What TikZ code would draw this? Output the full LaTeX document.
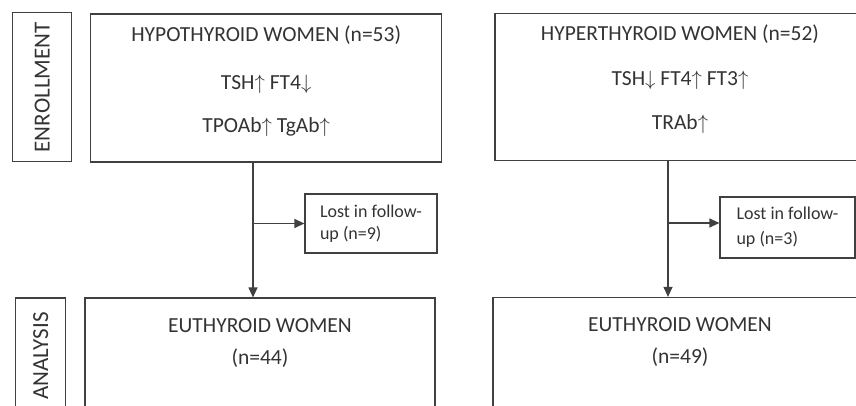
\documentclass[tikz,border=0pt]{standalone}
\usepackage{fontspec}
\setmainfont{Carlito}
\usetikzlibrary{arrows.meta,positioning}
\definecolor{linegray}{HTML}{404040}
\definecolor{textgray}{HTML}{333333}
\newcommand{\arup}{$\uparrow$}
\newcommand{\ardn}{$\downarrow$}
\tikzset{
  frame/.style={draw=linegray, line width=1.2pt, rectangle, inner sep=0pt},
  stage/.style={frame, rotate=90, text=textgray, font=\fontsize{23}{28}\selectfont},
  boxtext/.style={text=textgray, align=center, inner sep=0pt, font=\fontsize{21.5}{26}\selectfont},
  lostbox/.style={frame, text=textgray, align=left, minimum width=132pt, font=\fontsize{18}{22}\selectfont},
  flow/.style={draw=linegray, line width=1.2pt, -{Triangle[length=10pt,width=9pt]}}
}
\begin{document}
\begin{tikzpicture}[x=1pt,y=-1pt]
	\useasboundingbox (0,0) rectangle (856,406);
	\clip (0,0) rectangle (856,406);

	% stage labels
	\node[stage, minimum width=149pt, minimum height=59pt] (enroll) at (42.2,87.3) {ENROLLMENT};
	\node[stage, minimum width=116pt, minimum height=50pt] (analysis) at (40.8,356) {ANALYSIS};

	% enrollment
	\node[frame, minimum width=351pt, minimum height=148pt] (hypo) at (266.2,88) {};
	\node[boxtext, below=12pt of hypo.north] (hypotxt) {HYPOTHYROID WOMEN (n=53)\\[22pt] TSH\arup{} FT4\ardn\\[17pt] TPOAb\arup{} TgAb\arup};
	\node[frame, minimum width=370pt, minimum height=147pt] (hyper) at (680,86.7) {};
	\node[boxtext, below=12pt of hyper.north] (hypertxt) {HYPERTHYROID WOMEN (n=52)\\[19pt] TSH\ardn{} FT4\arup{} FT3\arup\\[18pt] TRAb\arup};

	% losses
	\node[lostbox, minimum height=59pt] (lost1) at (371,223.5) {Lost in follow-\\up (n=9)};
	\node[lostbox, minimum height=61pt, minimum width=135pt] (lost2) at (787.5,227.5) {Lost in follow-\\[3pt]up (n=3)};

	% analysis
	\node[frame, minimum width=350pt, minimum height=160pt] (eu1) at (260,378) {};
	\node[boxtext, below=21pt of eu1.north] (eu1txt) {EUTHYROID WOMEN\\[6pt](n=44)};
	\node[frame, minimum width=374pt, minimum height=160pt] (eu2) at (680,377.5) {};
	\node[boxtext, below=20pt of eu2.north] (eu2txt) {EUTHYROID WOMEN\\[6pt](n=49)};

	\coordinate (b1) at (253,223.5);
	\coordinate (b2) at (668,223);
	\draw[flow] (hypo.south -| b1) -- (eu1.north -| b1);
	\draw[flow] (b1) -- (lost1.west);
	\draw[flow] (hyper.south -| b2) -- (eu2.north -| b2);
	\draw[flow] (b2) -- (b2 -| lost2.west);
\end{tikzpicture}
\end{document}
